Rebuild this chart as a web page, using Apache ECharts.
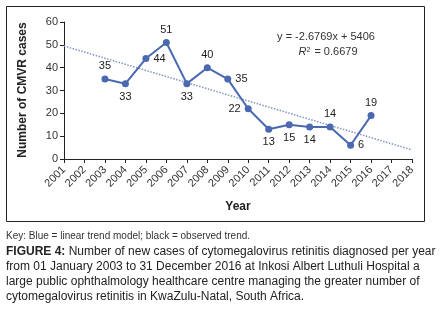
<!DOCTYPE html>
<html>
<head>
<meta charset="utf-8">
<script src="https://cdn.jsdelivr.net/npm/echarts@6/dist/echarts.min.js"></script>
<style>
  html, body { margin: 0; padding: 0; background: #fff; }
  #chart { width: 446px; height: 312px; }
</style>
</head>
<body>
<div id="chart"></div>
<script>
  // observed cases per year
  var years = [2003, 2004, 2005, 2006, 2007, 2008, 2009, 2010, 2011, 2012, 2013, 2014, 2015, 2016];
  var cases = [35, 33, 44, 51, 33, 40, 35, 22, 13, 15, 14, 14, 6, 19];
  // linear trend line ends
  var trendYears = [2001, 2018];
  var trendValues = [49.5, 4.0];
  var yTicks = [0, 10, 20, 30, 40, 50, 60];
  // label placement per point
  var labelPos = ['top', 'bottom', 'right', 'top', 'bottom', 'top', 'right', 'left', 'bottom', 'bottom', 'bottom', 'top', 'right', 'top'];

  var font = 'Liberation Sans';
  var blue = '#4A69B0';

  var pointData = [];
  for (var i = 0; i < years.length; i++) {
    pointData.push({
      value: [years[i], cases[i]],
      label: { position: labelPos[i] }
    });
  }
  var trendData = [];
  for (var j = 0; j < trendYears.length; j++) {
    trendData.push([trendYears[j], trendValues[j]]);
  }

  var chart = echarts.init(document.getElementById('chart'));
  var option = {
    backgroundColor: '#fff',
    animation: false,
    grid: { left: 64, right: 34, top: 22, bottom: 153 },
    xAxis: {
      type: 'value',
      min: 2001,
      max: 2018,
      interval: 1,
      splitLine: { show: false },
      axisLine: { lineStyle: { color: '#222', width: 1 } },
      axisTick: { show: true, length: 4, lineStyle: { color: '#222' } },
      axisLabel: {
        rotate: 45,
        margin: 9,
        fontFamily: font,
        fontSize: 11,
        color: '#333',
        formatter: function (v) { return String(v); }
      }
    },
    yAxis: {
      type: 'value',
      min: yTicks[0],
      max: yTicks[yTicks.length - 1],
      interval: 10,
      splitLine: { show: false },
      axisLine: { show: true, lineStyle: { color: '#222', width: 1 } },
      axisTick: { show: true, length: 4, lineStyle: { color: '#222' } },
      axisLabel: { fontFamily: font, fontSize: 11, color: '#333', margin: 6 }
    },
    series: [{
      type: 'line',
      data: trendData,
      symbol: 'none',
      silent: true,
      lineStyle: { type: 'dotted', color: '#8393BF', width: 1.5 }
    }, {
      type: 'line',
      data: pointData,
      symbol: 'circle',
      symbolSize: 7,
      lineStyle: { color: blue, width: 2 },
      itemStyle: { color: blue },
      label: {
        show: true,
        fontFamily: font,
        fontSize: 11,
        color: '#222',
        distance: 4,
        formatter: function (p) { return p.value[1]; }
      }
    }],
    graphic: [{
      type: 'rect',
      shape: { x: 6.5, y: 6.5, width: 418, height: 215 },
      style: { fill: 'none', stroke: '#222', lineWidth: 1 }
    }, {
      type: 'text',
      x: 326, y: 37,
      style: { text: 'y = -2.6769x + 5406', fontFamily: font, fontSize: 11, fill: '#333', align: 'center', verticalAlign: 'middle' }
    }, {
      type: 'text',
      x: 328, y: 52,
      style: {
        text: '{i|R}{s|2} = 0.6679',
        align: 'center', verticalAlign: 'middle',
        fontFamily: font, fontSize: 11, fill: '#333',
        rich: {
          i: { fontStyle: 'italic', fontFamily: font, fontSize: 11, fill: '#333' },
          s: { fontFamily: font, fontSize: 7, fill: '#333', verticalAlign: 'top', padding: [0, 1, 4, 0] }
        }
      }
    }, {
      type: 'text',
      x: 23, y: 90,
      rotation: Math.PI / 2,
      style: { text: 'Number of CMVR cases', fontFamily: font, fontSize: 12, fontWeight: 'bold', fill: '#222', align: 'center', verticalAlign: 'middle' }
    }, {
      type: 'text',
      x: 238, y: 207,
      style: { text: 'Year', fontFamily: font, fontSize: 12, fontWeight: 'bold', fill: '#222', align: 'center', verticalAlign: 'middle' }
    }, {
      type: 'text',
      x: 6, y: 236,
      style: { text: 'Key: Blue = linear trend model; black = observed trend.', fontFamily: font, fontSize: 10, fill: '#333', verticalAlign: 'middle' }
    }, {
      type: 'text',
      x: 6, y: 252,
      style: {
        text: '{b|FIGURE 4:} Number of new cases of cytomegalovirus retinitis diagnosed per year',
        fontFamily: font, fontSize: 12, fill: '#222', verticalAlign: 'middle',
        rich: { b: { fontWeight: 'bold', fontFamily: font, fontSize: 12, fill: '#222' } }
      }
    }, {
      type: 'text',
      x: 6, y: 267,
      style: { text: 'from 01 January 2003 to 31 December 2016 at Inkosi Albert Luthuli Hospital a', fontFamily: font, fontSize: 12, fill: '#222', verticalAlign: 'middle' }
    }, {
      type: 'text',
      x: 6, y: 282,
      style: { text: 'large public ophthalmology healthcare centre managing the greater number of', fontFamily: font, fontSize: 12, fill: '#222', verticalAlign: 'middle' }
    }, {
      type: 'text',
      x: 6, y: 297,
      style: { text: 'cytomegalovirus retinitis in KwaZulu-Natal, South Africa.', fontFamily: font, fontSize: 12, fill: '#222', verticalAlign: 'middle' }
    }]
  };
  chart.setOption(option);
  window.addEventListener('resize', function () {
    chart.resize();
  }, false);
</script>
</body>
</html>
